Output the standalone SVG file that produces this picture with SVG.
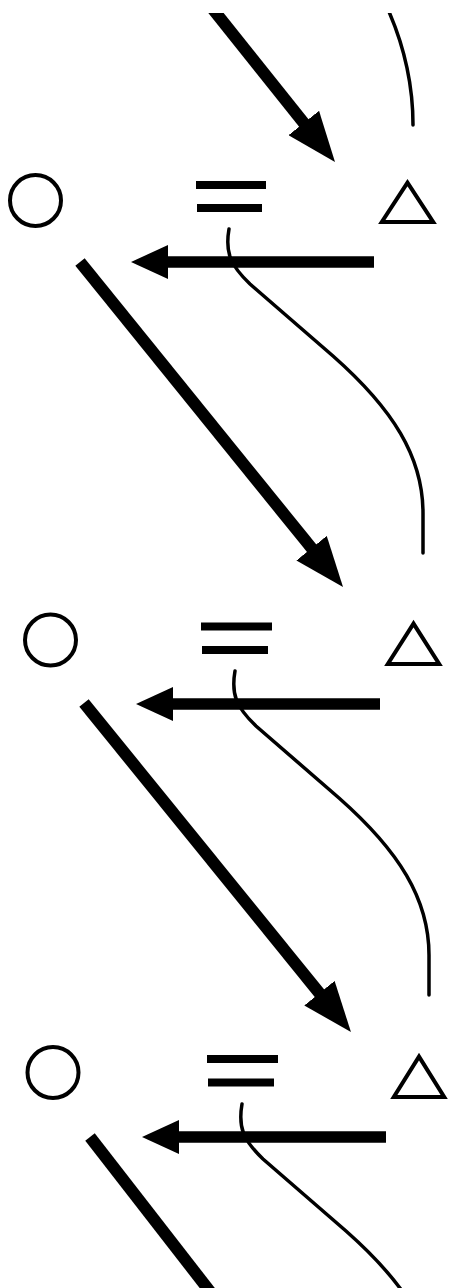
<svg xmlns="http://www.w3.org/2000/svg" width="449" height="1288" viewBox="0 0 449 1288">
<style>
.ring{fill:none;stroke:#000;stroke-width:4}
.tri{fill:none;stroke:#000;stroke-width:4;stroke-linejoin:miter}
.bar{fill:#000}
.diag{stroke:#000;stroke-width:12;fill:none}
.horiz{stroke:#000;stroke-width:11.5;fill:none}
.curve{stroke:#000;stroke-width:3.5;fill:none;stroke-linecap:round}
</style>
<defs>
<clipPath id="frame"><rect x="0" y="13" width="449" height="1275"/></clipPath>
<marker id="headD" markerUnits="userSpaceOnUse" viewBox="0 0 50 39" refX="25" refY="19.5" markerWidth="50" markerHeight="39" orient="auto">
<path d="M0,0 L50,19.5 L0,39 z" fill="#000"/>
</marker>
<marker id="headH" markerUnits="userSpaceOnUse" viewBox="0 0 37 34" refX="18" refY="17" markerWidth="37" markerHeight="34" orient="auto">
<path d="M0,0 L37,17 L0,34 z" fill="#000"/>
</marker>
<path id="wave" d="M0,0 C-4,23 1,36 21,55 L104,127 C164,180 194,228 194,284 L194,324"/>
</defs>
<g clip-path="url(#frame)">
<g id="connectors">
<line class="diag" x1="205.6" y1="0" x2="319.4" y2="142.5" marker-end="url(#headD)"/>
<path class="curve" d="M386,5 C403,42 413,80 413,125"/>
<line class="horiz" x1="374" y1="262" x2="150" y2="262" marker-end="url(#headH)"/>
<use href="#wave" class="curve" transform="translate(229,229)"/>
<line class="diag" x1="80" y1="262" x2="327.3" y2="567.6" marker-end="url(#headD)"/>
<line class="horiz" x1="380" y1="704" x2="155" y2="704" marker-end="url(#headH)"/>
<use href="#wave" class="curve" transform="translate(235,671)"/>
<line class="diag" x1="84" y1="703" x2="335.2" y2="1012.6" marker-end="url(#headD)"/>
<line class="horiz" x1="386" y1="1137" x2="161" y2="1137" marker-end="url(#headH)"/>
<use href="#wave" class="curve" transform="translate(242,1104)"/>
<line class="diag" x1="90" y1="1137" x2="215" y2="1298"/>
</g>
<g id="circle1"><circle class="ring" cx="35.5" cy="200.5" r="25.5"/></g>
<g id="equals1"><rect class="bar" x="196" y="181" width="70" height="8"/><rect class="bar" x="197" y="204" width="65" height="8"/></g>
<g id="triangle1"><polygon class="tri" points="407.5,182.6 381.8,222 433.2,222"/></g>
<g id="circle2"><circle class="ring" cx="50.5" cy="640" r="25.5"/></g>
<g id="equals2"><rect class="bar" x="201" y="622.5" width="71" height="8"/><rect class="bar" x="202" y="646" width="66" height="8"/></g>
<g id="triangle2"><polygon class="tri" points="413.5,623.6 387.8,664 439.2,664"/></g>
<g id="circle3"><circle class="ring" cx="53" cy="1072.5" r="25.5"/></g>
<g id="equals3"><rect class="bar" x="207" y="1055" width="71" height="8"/><rect class="bar" x="208" y="1078.5" width="66" height="8"/></g>
<g id="triangle3"><polygon class="tri" points="419,1056.6 393.8,1097 444.2,1097"/></g>
</g>
</svg>
